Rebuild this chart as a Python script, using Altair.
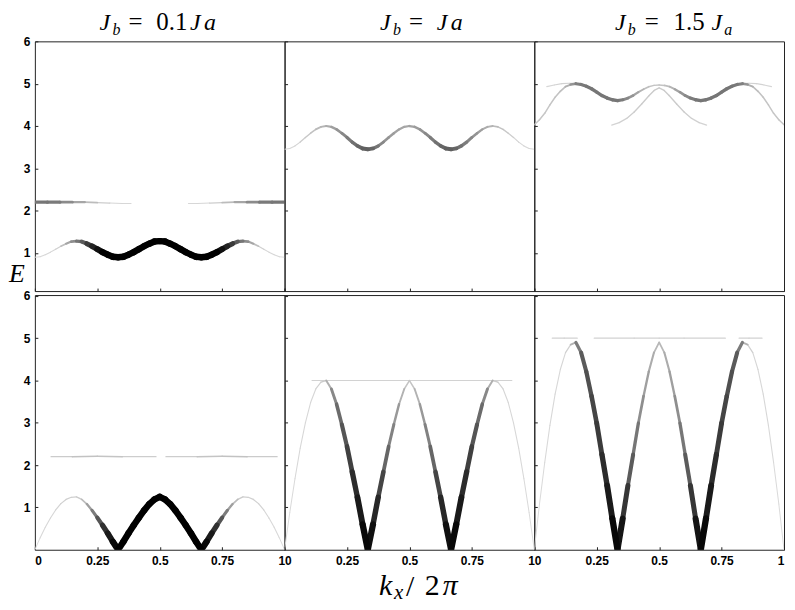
import altair as alt
import pandas as pd

# ---------------- data ----------------
# common k-grid (k_x / 2pi)
K = [0, 0.0208, 0.0417, 0.0625, 0.0833, 0.1042, 0.125, 0.1458, 0.1667, 0.1875,
     0.2083, 0.2292, 0.25, 0.2708, 0.2917, 0.3125, 0.3333, 0.3542, 0.375, 0.3958,
     0.4167, 0.4375, 0.4583, 0.4792, 0.5, 0.5208, 0.5417, 0.5625, 0.5833, 0.6042,
     0.625, 0.6458, 0.6667, 0.6875, 0.7083, 0.7292, 0.75, 0.7708, 0.7917, 0.8125,
     0.8333, 0.8542, 0.875, 0.8958, 0.9167, 0.9375, 0.9583, 0.9792, 1.0]

# ---- top row, J_b = 0.1 J_a ----
E_TL = [0.90, 0.91, 0.96, 1.02, 1.09, 1.16, 1.22, 1.27, 1.28, 1.27, 1.22, 1.16, 1.09, 1.02, 0.96, 0.91, 0.90,
        0.91, 0.96, 1.02, 1.09, 1.16, 1.22, 1.27, 1.28, 1.27, 1.22, 1.16, 1.09, 1.02, 0.96, 0.91, 0.90,
        0.91, 0.96, 1.02, 1.09, 1.16, 1.22, 1.27, 1.28, 1.27, 1.22, 1.16, 1.09, 1.02, 0.96, 0.91, 0.90]
W_TL = [0.03, 0.04, 0.05, 0.05, 0.06, 0.1, 0.2, 0.3, 0.4, 0.5, 0.65, 0.8, 0.9,
        1, 1, 1, 1, 1, 1, 1, 1, 1, 1, 1, 1, 1, 1, 1, 1, 1, 1, 1, 1, 1, 1, 1,
        0.9, 0.8, 0.65, 0.5, 0.4, 0.3, 0.2, 0.1, 0.06, 0.05, 0.05, 0.04, 0.03]
K_TLF1 = [0, 0.05, 0.1, 0.15, 0.2, 0.25, 0.3, 0.35, 0.385]
E_TLF1 = [2.2, 2.2, 2.2, 2.2, 2.2, 2.19, 2.18, 2.17, 2.17]
W_TLF1 = [0.45, 0.45, 0.42, 0.3, 0.2, 0.12, 0.06, 0.05, 0.05]
K_TLF2 = [0.615, 0.65, 0.7, 0.75, 0.8, 0.85, 0.9, 0.95, 1.0]
E_TLF2 = [2.17, 2.17, 2.18, 2.19, 2.2, 2.2, 2.2, 2.2, 2.2]
W_TLF2 = [0.05, 0.05, 0.06, 0.12, 0.2, 0.3, 0.42, 0.45, 0.45]

# ---- top row, J_b = J_a ----
E_TM = [3.45, 3.47, 3.53, 3.62, 3.73, 3.83, 3.92, 3.98, 4.0, 3.98, 3.92, 3.83, 3.73, 3.62, 3.53, 3.47, 3.45,
        3.47, 3.53, 3.62, 3.73, 3.83, 3.92, 3.98, 4.0, 3.98, 3.92, 3.83, 3.73, 3.62, 3.53, 3.47, 3.45,
        3.47, 3.53, 3.62, 3.73, 3.83, 3.92, 3.98, 4.0, 3.98, 3.92, 3.83, 3.73, 3.62, 3.53, 3.47, 3.45]
W_TM = [0.05, 0.05, 0.05, 0.08, 0.1, 0.13, 0.15, 0.18, 0.2,
        0.25, 0.3, 0.35, 0.4, 0.45, 0.5, 0.55, 0.55,
        0.5, 0.4, 0.35, 0.3, 0.28, 0.25, 0.25, 0.25,
        0.28, 0.3, 0.35, 0.4, 0.45, 0.5, 0.55, 0.55,
        0.5, 0.45, 0.4, 0.35, 0.3, 0.25, 0.2, 0.18,
        0.15, 0.12, 0.1, 0.08, 0.05, 0.05, 0.05, 0.05]

# ---- top row, J_b = 1.5 J_a ----
E_TRA = [4.03, 4.15, 4.3, 4.5, 4.68, 4.82, 4.93, 4.98, 5.0,
         4.98, 4.94, 4.88, 4.8, 4.72, 4.66, 4.62, 4.6,
         4.62, 4.66, 4.72, 4.8, 4.87, 4.93, 4.96, 4.97,
         4.96, 4.93, 4.87, 4.8, 4.72, 4.66, 4.62, 4.6,
         4.62, 4.66, 4.72, 4.8, 4.88, 4.94, 4.98, 5.0,
         4.98, 4.93, 4.82, 4.68, 4.5, 4.3, 4.15, 4.03]
W_TRA = [0.12, 0.12, 0.12, 0.12, 0.13, 0.14, 0.16, 0.25, 0.4,
         0.42, 0.45, 0.45, 0.45, 0.45, 0.45, 0.45, 0.45,
         0.4, 0.35, 0.3, 0.22, 0.16, 0.13, 0.12, 0.12,
         0.13, 0.16, 0.22, 0.3, 0.35, 0.4, 0.45, 0.45,
         0.45, 0.45, 0.45, 0.45, 0.45, 0.45, 0.42, 0.4,
         0.25, 0.16, 0.14, 0.13, 0.12, 0.12, 0.12, 0.12]
K_TRB = [0.31, 0.34, 0.37, 0.4, 0.43, 0.46, 0.48, 0.5, 0.52, 0.54, 0.57, 0.6, 0.63, 0.66, 0.69]
E_TRB = [4.02, 4.08, 4.18, 4.33, 4.52, 4.72, 4.84, 4.9, 4.84, 4.72, 4.52, 4.33, 4.18, 4.08, 4.02]
W_TRB = [0.06, 0.07, 0.08, 0.09, 0.1, 0.1, 0.1, 0.1, 0.1, 0.1, 0.1, 0.09, 0.08, 0.07, 0.06]
K_TRC = [0.05, 0.08, 0.11, 0.14, 0.165]
E_TRC = [4.93, 4.97, 5.0, 5.01, 5.01]
W_TRC = [0.05, 0.06, 0.07, 0.07, 0.07]
K_TRD = [0.835, 0.86, 0.89, 0.92, 0.95]
E_TRD = [5.01, 5.01, 5.0, 4.97, 4.93]
W_TRD = [0.07, 0.07, 0.07, 0.06, 0.05]

# ---- bottom row, J_b = 0.1 J_a ----
E_BL = [0, 0.28, 0.53, 0.75, 0.94, 1.09, 1.19, 1.24, 1.25, 1.19, 1.08, 0.93, 0.76, 0.58, 0.39, 0.19, 0,
        0.19, 0.39, 0.58, 0.76, 0.93, 1.08, 1.19, 1.25, 1.19, 1.08, 0.93, 0.76, 0.58, 0.39, 0.19, 0,
        0.19, 0.39, 0.58, 0.76, 0.93, 1.08, 1.19, 1.25, 1.24, 1.19, 1.09, 0.94, 0.75, 0.53, 0.28, 0]
W_BL = [0.03, 0.04, 0.05, 0.05, 0.06, 0.07, 0.08, 0.08, 0.08,
        0.12, 0.2, 0.35, 0.5, 0.7, 0.85, 0.95,
        1, 1, 1, 1, 1, 1, 1, 1, 1, 1, 1, 1, 1, 1, 1, 1, 1,
        0.95, 0.85, 0.7, 0.5, 0.35, 0.2, 0.12,
        0.08, 0.08, 0.08, 0.07, 0.06, 0.05, 0.05, 0.04, 0.03]
K_BLF1 = [0.065, 0.15, 0.25, 0.35, 0.485]
E_BLF1 = [2.2, 2.2, 2.21, 2.2, 2.2]
W_BLF1 = [0.08, 0.12, 0.15, 0.1, 0.08]
K_BLF2 = [0.525, 0.65, 0.75, 0.85, 0.97]
E_BLF2 = [2.2, 2.2, 2.21, 2.2, 2.2]
W_BLF2 = [0.08, 0.1, 0.15, 0.12, 0.08]

# ---- bottom row, J_b = J_a ----
E_BM = [0, 0.88, 1.68, 2.4, 3.0, 3.48, 3.8, 3.96, 4.0, 3.8, 3.44, 2.96, 2.44, 1.84, 1.24, 0.6, 0,
        0.6, 1.24, 1.84, 2.44, 2.96, 3.44, 3.8, 4.0, 3.8, 3.44, 2.96, 2.44, 1.84, 1.24, 0.6, 0,
        0.6, 1.24, 1.84, 2.44, 2.96, 3.44, 3.8, 4.0, 3.96, 3.8, 3.48, 3.0, 2.4, 1.68, 0.88, 0]
W_BM = [0.03, 0.04, 0.04, 0.05, 0.05, 0.05, 0.06, 0.08, 0.12,
        0.3, 0.45, 0.55, 0.65, 0.75, 0.85, 0.95, 1,
        0.9, 0.75, 0.6, 0.45, 0.35, 0.25, 0.15, 0.1,
        0.15, 0.25, 0.35, 0.45, 0.6, 0.75, 0.9, 1,
        0.95, 0.85, 0.75, 0.65, 0.55, 0.45, 0.3, 0.12,
        0.08, 0.06, 0.05, 0.05, 0.05, 0.04, 0.04, 0.03]
K_BMF = [0.11, 0.3, 0.5, 0.7, 0.91]
E_BMF = [4.0, 4.0, 4.0, 4.0, 4.0]
W_BMF = [0.07, 0.07, 0.07, 0.07, 0.07]

# ---- bottom row, J_b = 1.5 J_a ----
E_BR = [0, 1.08, 2.06, 2.94, 3.68, 4.26, 4.66, 4.85, 4.9, 4.66, 4.21, 3.63, 2.99, 2.25, 1.52, 0.74, 0,
        0.74, 1.52, 2.25, 2.99, 3.63, 4.21, 4.66, 4.9, 4.66, 4.21, 3.63, 2.99, 2.25, 1.52, 0.74, 0,
        0.74, 1.52, 2.25, 2.99, 3.63, 4.21, 4.66, 4.9, 4.85, 4.66, 4.26, 3.68, 2.94, 2.06, 1.08, 0]
W_BR = [0.03, 0.04, 0.04, 0.05, 0.05, 0.05, 0.06, 0.1, 0.3,
        0.55, 0.6, 0.65, 0.7, 0.75, 0.85, 0.95, 1,
        0.85, 0.65, 0.5, 0.4, 0.3, 0.25, 0.2, 0.15,
        0.2, 0.25, 0.3, 0.4, 0.5, 0.65, 0.85, 1,
        0.95, 0.85, 0.75, 0.7, 0.65, 0.6, 0.55, 0.3,
        0.1, 0.06, 0.05, 0.05, 0.05, 0.04, 0.04, 0.03]
K_BRF1 = [0.072, 0.12, 0.172]
E_BRF1 = [5.0, 5.0, 5.0]
W_BRF1 = [0.07, 0.07, 0.07]
K_BRF2 = [0.24, 0.4, 0.5, 0.6, 0.765]
E_BRF2 = [5.0, 5.0, 5.0, 5.0, 5.0]
W_BRF2 = [0.07, 0.07, 0.07, 0.07, 0.07]
K_BRF3 = [0.82, 0.86, 0.912]
E_BRF3 = [5.0, 5.0, 5.0]
W_BRF3 = [0.07, 0.07, 0.07]

X_TICKS = [0, 0.25, 0.5, 0.75, 1]
Y_TICKS = [1, 2, 3, 4, 5, 6]

# ---------------- styling ----------------
LABEL_FONT = "Liberation Sans"
MATH_FONT = "Liberation Serif"
PW = 251
ONE = pd.DataFrame({"d": [0]})


def segments(ks, es, ws):
    rows = []
    for i in range(len(ks) - 1):
        rows.append({"k": ks[i], "E": es[i], "k2": ks[i + 1], "E2": es[i + 1],
                     "w": (ws[i] + ws[i + 1]) / 2})
    return rows


def txt(s, x, y, size, italic=True):
    return alt.Chart(ONE).mark_text(
        text=s, font=MATH_FONT, fontSize=size,
        fontStyle="italic" if italic else "normal",
        align="left", baseline="alphabetic", color="black",
    ).encode(x=alt.value(x), y=alt.value(y))


def panel(curves, row, col, extras):
    rows = []
    for c in curves:
        rows += segments(*c)
    df = pd.DataFrame(rows).sort_values("w")
    ydom = [0.1, 6] if row == 0 else [0, 6.02]
    h = 251 if row == 0 else 256
    xaxis = alt.Axis(values=X_TICKS, format=".2~f", offset=-3, tickSize=3, domain=False,
                     grid=False, labels=(row == 1), labelFlush=True, labelOverlap=False,
                     labelFont=LABEL_FONT, labelFontSize=12, labelFontWeight="bold",
                     labelColor="black", labelPadding=6, tickColor="#222", title=None)
    yaxis = alt.Axis(values=Y_TICKS, format="d", offset=-3, tickSize=3, domain=False,
                     grid=False, labels=(col == 0), labelOverlap=False,
                     labelFont=LABEL_FONT, labelFontSize=12, labelFontWeight="bold",
                     labelColor="black", labelPadding=5, tickColor="#222", title=None)
    base = alt.Chart(df).mark_rule(strokeCap="round", clip=True).encode(
        x=alt.X("k:Q", scale=alt.Scale(domain=[0, 1], nice=False, zero=False), axis=xaxis),
        x2="k2:Q",
        y=alt.Y("E:Q", scale=alt.Scale(domain=ydom, nice=False, zero=False), axis=yaxis),
        y2="E2:Q",
        color=alt.Color("w:Q", scale=alt.Scale(domain=[0, 1], range=["#e4e4e4", "#000000"]),
                        legend=None),
        size=alt.Size("w:Q", scale=alt.Scale(domain=[0, 1], range=[0.8, 6.5]), legend=None),
    )
    return alt.layer(base, *extras).properties(width=PW, height=h)


title_tl = [txt("J", 65, -11, 24), txt("b", 78, -6, 16), txt("=", 94, -11, 25, False),
            txt("0.1", 122, -11, 25, False), txt("J", 156, -11, 24), txt("a", 170, -11, 24),
            txt("E", -26, 242, 26)]
title_tm = [txt("J", 96, -11, 24), txt("b", 109, -6, 16), txt("=", 125, -11, 25, False),
            txt("J", 153, -11, 24), txt("a", 167, -11, 24)]
title_tr = [txt("J", 81, -11, 24), txt("b", 94, -6, 16), txt("=", 111, -11, 25, False),
            txt("1.5", 140, -11, 25, False), txt("J", 178, -11, 24), txt("a", 191, -6, 16)]
xlabel = [txt("k", 95, 301, 30), txt("x", 110, 305, 21), txt("/", 122, 302, 30, False),
          txt("2", 141, 301, 30, False), txt("π", 159, 301, 30)]

p_tl = panel([(K, E_TL, W_TL), (K_TLF1, E_TLF1, W_TLF1), (K_TLF2, E_TLF2, W_TLF2)], 0, 0, title_tl)
p_tm = panel([(K, E_TM, W_TM)], 0, 1, title_tm)
p_tr = panel([(K, E_TRA, W_TRA), (K_TRB, E_TRB, W_TRB), (K_TRC, E_TRC, W_TRC),
              (K_TRD, E_TRD, W_TRD)], 0, 2, title_tr)
p_bl = panel([(K, E_BL, W_BL), (K_BLF1, E_BLF1, W_BLF1), (K_BLF2, E_BLF2, W_BLF2)], 1, 0, [])
p_bm = panel([(K, E_BM, W_BM), (K_BMF, E_BMF, W_BMF)], 1, 1, xlabel)
p_br = panel([(K, E_BR, W_BR), (K_BRF1, E_BRF1, W_BRF1), (K_BRF2, E_BRF2, W_BRF2),
              (K_BRF3, E_BRF3, W_BRF3)], 1, 2, [])

chart = alt.concat(p_tl, p_tm, p_tr, p_bl, p_bm, p_br, columns=3,
                   spacing={"row": 4, "column": 0}, bounds="flush").properties(
    padding={"left": 0, "top": 0, "right": 2, "bottom": 0},
    background="white",
).configure_view(stroke="#222", strokeWidth=1).configure_axis(tickWidth=1)

chart.save("out.html", embed_options={"renderer": "svg", "actions": False})
